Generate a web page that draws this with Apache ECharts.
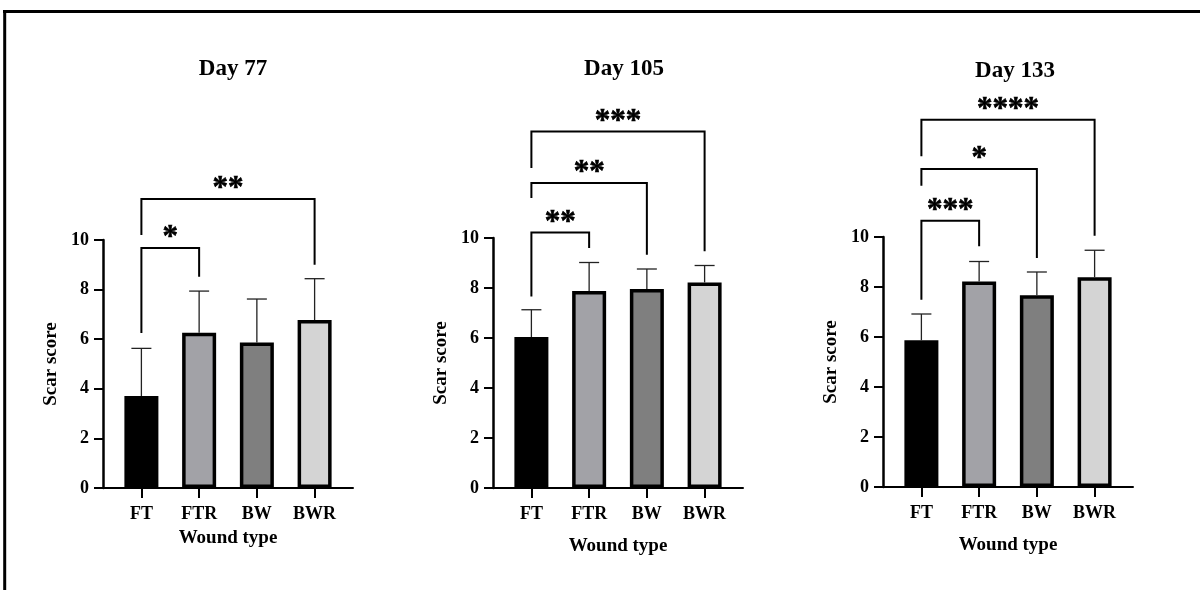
<!DOCTYPE html>
<html>
<head>
<meta charset="utf-8">
<style>
  html, body { margin: 0; padding: 0; background: #fff; }
  #chart { width: 1200px; height: 590px; }
</style>
<script src="https://cdn.jsdelivr.net/npm/echarts@6/dist/echarts.min.js"></script>
</head>
<body>
<div id="chart"></div>
<script>
const categories = ["FT", "FTR", "BW", "BWR"];
const dayTitles = ["Day 77", "Day 105", "Day 133"];

const mean77 = [3.71, 6.26, 5.87, 6.77];
const sd77 = [1.92, 1.68, 1.75, 1.67];
const mean105 = [6.04, 7.88, 7.96, 8.22];
const sd105 = [1.09, 1.14, 0.8, 0.68];
const mean133 = [5.87, 8.22, 7.67, 8.39];
const sd133 = [1.05, 0.8, 0.93, 1.08];

// [from, to, bracket height, left leg end, right leg end]
const brackets77 = [[1, 2, 9.68, 6.25, 8.52], [1, 4, 11.65, 10.2, 9.0]];
const stars77 = ["*", "**"];
const brackets105 = [[1, 2, 10.22, 7.66, 9.6], [1, 3, 12.2, 11.6, 9.33], [1, 4, 14.26, 12.8, 9.47]];
const stars105 = ["**", "**", "***"];
const brackets133 = [[1, 2, 10.65, 7.49, 9.63], [1, 3, 12.72, 12.05, 9.16], [1, 4, 14.69, 13.23, 10.05]];
const stars133 = ["***", "*", "****"];

const barColors = ["#000000", "#a2a2a7", "#7f7f7f", "#d4d4d4"];
const FONT = "Liberation Serif";

const panels = [
  { title: dayTitles[0], mean: mean77, sd: sd77, brackets: brackets77, stars: stars77,
    grid: { left: 103, top: 240, width: 250, height: 248 }, titleX: 228, titleTop: 53, nameGap: 41 },
  { title: dayTitles[1], mean: mean105, sd: sd105, brackets: brackets105, stars: stars105,
    grid: { left: 493, top: 238, width: 250, height: 250 }, titleX: 619, titleTop: 53, nameGap: 49 },
  { title: dayTitles[2], mean: mean133, sd: sd133, brackets: brackets133, stars: stars133,
    grid: { left: 883, top: 237, width: 250, height: 250 }, titleX: 1010, titleTop: 55, nameGap: 49 },
];

function renderErrorBar(params, api) {
  const x = api.value(0);
  const m = api.value(1);
  const sd = api.value(2);
  const base = api.coord([x, m]);
  const top = api.coord([x, m + sd]);
  const style = { stroke: "#222", lineWidth: 1.3 };
  return {
    type: "group",
    children: [
      { type: "line", shape: { x1: base[0], y1: base[1], x2: top[0], y2: top[1] }, style },
      { type: "line", shape: { x1: top[0] - 10, y1: top[1], x2: top[0] + 10, y2: top[1] }, style },
    ],
  };
}

function makeBracketRenderer(stars) {
  return function (params, api) {
    const x1 = api.value(0);
    const x2 = api.value(1);
    const h = api.value(2);
    const p1 = api.coord([x1, api.value(3)]);
    const p2 = api.coord([x1, h]);
    const p3 = api.coord([x2, h]);
    const p4 = api.coord([x2, api.value(4)]);
    return {
      type: "group",
      children: [
        {
          type: "polyline",
          shape: { points: [p1, p2, p3, p4] },
          style: { stroke: "#000", lineWidth: 2, fill: null },
        },
        {
          type: "text",
          style: {
            text: stars[params.dataIndex],
            x: (p2[0] + p3[0]) / 2,
            y: p2[1] - 10,
            align: "center",
            verticalAlign: "middle",
            font: `bold 31px "${FONT}"`,
            fill: "#000",
            stroke: "#000",
            lineWidth: 0.6,
          },
        },
      ],
    };
  };
}

const option = {
  animation: false,
  backgroundColor: "#fff",
  title: panels.map((p) => ({
    text: p.title,
    left: p.titleX,
    top: p.titleTop,
    textAlign: "center",
    textStyle: { fontFamily: FONT, fontWeight: "bold", fontSize: 23, color: "#000" },
  })),
  grid: panels.map((p) => ({ ...p.grid, containLabel: false })),
  xAxis: panels.map((p, i) => ({
    type: "value",
    gridIndex: i,
    min: 0.335,
    max: 4.665,
    name: "Wound type",
    nameLocation: "middle",
    nameGap: p.nameGap,
    nameTextStyle: { fontFamily: FONT, fontWeight: "bold", fontSize: 19, color: "#000" },
    axisLine: { show: true, onZero: false, lineStyle: { color: "#000", width: 2 } },
    axisTick: { show: true, customValues: [1, 2, 3, 4], length: 10, lineStyle: { color: "#000", width: 2 } },
    axisLabel: {
      customValues: [1, 2, 3, 4],
      formatter: (v) => categories[Math.round(v) - 1] || "",
      margin: 17,
      fontFamily: FONT,
      fontWeight: "bold",
      fontSize: 18,
      color: "#000",
    },
    splitLine: { show: false },
  })),
  yAxis: panels.map((p, i) => ({
    type: "value",
    gridIndex: i,
    min: 0,
    max: 10,
    interval: 2,
    name: "Scar score",
    nameLocation: "middle",
    nameGap: 42,
    nameRotate: 90,
    nameTextStyle: { fontFamily: FONT, fontWeight: "bold", fontSize: 19, color: "#000" },
    axisLine: { show: true, lineStyle: { color: "#000", width: 2.5 } },
    axisTick: { show: true, length: 9, lineStyle: { color: "#000", width: 2 } },
    axisLabel: { margin: 14, fontFamily: FONT, fontWeight: "bold", fontSize: 18, color: "#000" },
    splitLine: { show: false },
  })),
  series: panels.flatMap((p, i) => [
    {
      type: "bar",
      xAxisIndex: i,
      yAxisIndex: i,
      barWidth: 34,
      data: p.mean.map((v, k) => ({
        value: [k + 1, v],
        itemStyle: { color: barColors[k], borderColor: "#000", borderWidth: 3.5 },
      })),
      z: 2,
    },
    {
      type: "custom",
      xAxisIndex: i,
      yAxisIndex: i,
      renderItem: renderErrorBar,
      data: p.mean.map((v, k) => [k + 1, v, p.sd[k]]),
      z: 3,
    },
    {
      type: "custom",
      xAxisIndex: i,
      yAxisIndex: i,
      renderItem: makeBracketRenderer(p.stars),
      clip: false,
      data: p.brackets,
      z: 4,
    },
  ]),
  graphic: [
    { type: "line", shape: { x1: 3, y1: 11.5, x2: 1200, y2: 11.5 }, style: { stroke: "#000", lineWidth: 3 } },
    { type: "line", shape: { x1: 4.7, y1: 10, x2: 4.7, y2: 590 }, style: { stroke: "#000", lineWidth: 3 } },
  ],
};

const chart = echarts.init(document.getElementById("chart"));
chart.setOption(option);
</script>
</body>
</html>
